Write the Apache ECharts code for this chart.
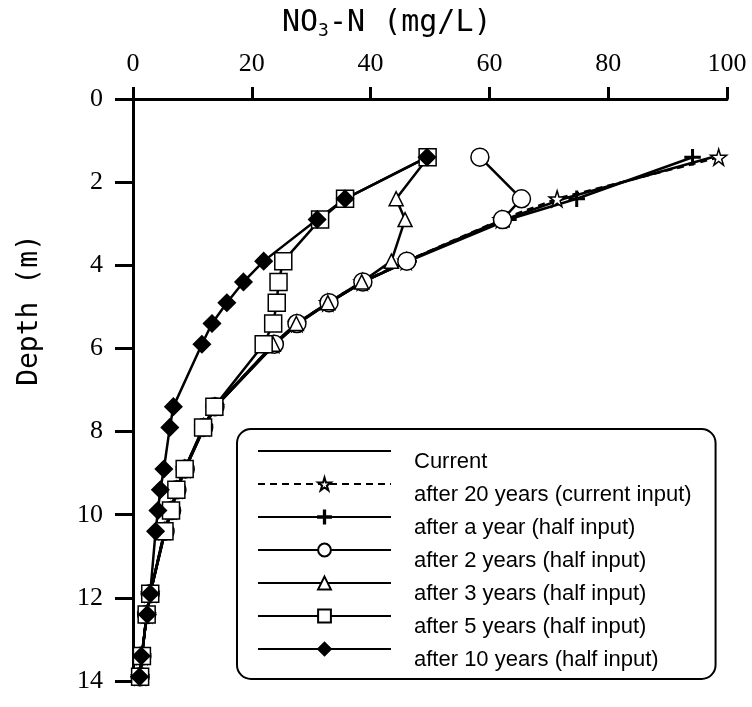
<!DOCTYPE html>
<html>
<head>
<meta charset="utf-8">
<script src="https://cdn.jsdelivr.net/npm/echarts@6/dist/echarts.min.js"></script>
<style>
    html, body {margin: 0; padding: 0; background: #fff;}
    #chart {width: 752px; height: 707px;}
</style>
</head>
<body>
<div id="chart"></div>
<script>
// depth of each sample (m)
var depth = [1.4, 2.4, 2.9, 3.9, 4.4, 4.9, 5.4, 5.9, 7.4, 7.9, 8.9, 9.4, 9.9, 10.4, 11.9, 12.4, 13.4, 13.9];

// NO3-N (mg/L) at each depth
var current = [97.5, 72.5, 62.5, 46.2, 38.8, 33.0, 27.8, 23.9, 13.9, 12.0, 8.8, 7.4, 6.5, 5.4, 2.9, 2.3, 1.5, 1.2];
var after20 = [98.6, 71.4, 62.0, 46.0, 38.6, 32.8, 27.6, 23.7, 13.8, 11.9, 8.7, 7.3, 6.4, 5.3, 2.9, 2.3, 1.5, 1.2];
var year1 = [94.2, 74.7, 63.2, 46.4, 38.7, 32.9, 27.7, 23.8, 13.9, 12.0, 8.8, 7.4, 6.5, 5.4, 2.9, 2.3, 1.5, 1.2];
var year2 = [58.4, 65.4, 62.2, 46.1, 38.7, 33.0, 27.6, 23.8, 13.8, 11.9, 8.8, 7.4, 6.5, 5.4, 2.9, 2.3, 1.5, 1.2];
var year3 = [49.7, 44.3, 45.8, 43.5, 38.5, 32.8, 27.5, 23.6, 13.8, 11.9, 8.7, 7.3, 6.4, 5.3, 2.9, 2.3, 1.5, 1.2];
var year5 = [49.6, 35.7, 31.5, 25.3, 24.5, 24.2, 23.6, 22.0, 13.7, 11.8, 8.7, 7.3, 6.4, 5.3, 2.9, 2.3, 1.5, 1.2];
var year10 = [49.5, 35.7, 31.0, 22.0, 18.6, 15.8, 13.3, 11.6, 6.8, 6.2, 5.2, 4.6, 4.2, 3.8, 2.9, 2.4, 1.4, 1.1];

var seriesNames = [
    'Current',
    'after 20 years (current input)',
    'after a year (half input)',
    'after 2 years (half input)',
    'after 3 years (half input)',
    'after 5 years (half input)',
    'after 10 years (half input)'
];

var xTicks = [0, 20, 40, 60, 80, 100];
var yTicks = [0, 2, 4, 6, 8, 10, 12, 14];

var starPath = 'path://M50,0 L61,35 L98,35 L68,57 L79,91 L50,70 L21,91 L32,57 L2,35 L39,35 Z';
var plusPath = 'path://M9,0 H11 V9 H20 V11 H11 V20 H9 V11 H0 V9 H9 Z';

function pairs(values) {
    var out = [];
    for (var i = 0; i < values.length; i++) {
        out.push([values[i], depth[i]]);
    }
    return out;
}

function makeSeries(name, values, symbol, size, fill, dashed) {
    var hidden = symbol === 'none';
    return {
        name: name,
        type: 'line',
        data: pairs(values),
        symbol: hidden ? 'circle' : symbol,
        symbolSize: size,
        showSymbol: !hidden,
        lineStyle: {color: '#000', width: 2.5, type: dashed ? [7, 5] : 'solid'},
        itemStyle: hidden ? {color: 'rgba(0,0,0,0)', borderWidth: 0}
                          : {color: fill, borderColor: '#000', borderWidth: 1.5},
        emphasis: {disabled: true},
        z: 2
    };
}

var myChart = echarts.init(document.getElementById('chart'));

var option = {
    animation: false,
    backgroundColor: '#fff',
    title: {
        text: '{a|NO}{b|3}{a|-N (mg/L)}',
        left: 277,
        top: 2,
        textStyle: {
            rich: {
                a: {fontFamily: 'DejaVu Sans Mono', fontSize: 30, fontWeight: 'normal', color: '#000'},
                b: {fontFamily: 'DejaVu Sans Mono', fontSize: 18, fontWeight: 'normal', color: '#000', padding: [15, 0, 0, 0]}
            }
        }
    },
    graphic: [{
        type: 'text',
        x: 30,
        y: 310,
        rotation: Math.PI / 2,
        style: {
            text: 'Depth (m)',
            fontFamily: 'DejaVu Sans Mono',
            fontSize: 28,
            fill: '#000',
            align: 'center',
            verticalAlign: 'middle'
        }
    }],
    legend: {
        orient: 'vertical',
        left: 237,
        top: 429,
        padding: [0, 24, 8, 20],
        itemWidth: 133,
        itemHeight: 16,
        itemGap: -11,
        backgroundColor: '#fff',
        borderColor: '#000',
        borderWidth: 2,
        borderRadius: 14,
        data: seriesNames,
        formatter: '\n{name}',
        textStyle: {
            fontFamily: 'Liberation Sans',
            fontSize: 22,
            lineHeight: 22,
            color: '#000',
            padding: [0, 0, 0, 18]
        }
    },
    grid: {left: 133, right: 25, top: 99, bottom: 26},
    xAxis: {
        type: 'value',
        position: 'top',
        min: xTicks[0],
        max: xTicks[xTicks.length - 1],
        interval: 20,
        axisLine: {lineStyle: {color: '#000', width: 3}},
        axisTick: {length: 12, lineStyle: {width: 3}},
        splitLine: {show: false},
        axisLabel: {fontFamily: 'Liberation Serif', fontSize: 26, color: '#000', margin: 22}
    },
    yAxis: {
        type: 'value',
        inverse: true,
        min: yTicks[0],
        max: yTicks[yTicks.length - 1],
        interval: 2,
        axisLine: {lineStyle: {color: '#000', width: 3}},
        axisTick: {length: 18, lineStyle: {width: 3}},
        splitLine: {show: false},
        axisLabel: {fontFamily: 'Liberation Serif', fontSize: 26, color: '#000', margin: 30}
    },
    series: [
        makeSeries(seriesNames[0], current, 'none', 0, '#000', false),
        makeSeries(seriesNames[1], after20, starPath, 16, '#fff', true),
        makeSeries(seriesNames[2], year1, plusPath, 15, '#000', false),
        makeSeries(seriesNames[3], year2, 'circle', 18, '#fff', false),
        makeSeries(seriesNames[4], year3, 'triangle', 14, '#fff', false),
        makeSeries(seriesNames[5], year5, 'rect', 17, '#fff', false),
        makeSeries(seriesNames[6], year10, 'diamond', 17, '#000', false)
    ]
};

myChart.setOption(option);
</script>
</body>
</html>
